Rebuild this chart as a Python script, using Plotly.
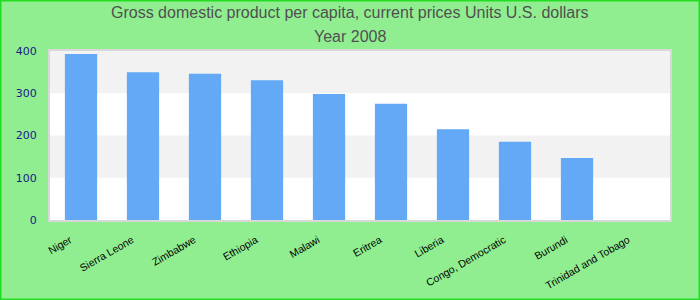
import plotly.graph_objects as go

countries = ["Niger", "Sierra Leone", "Zimbabwe", "Ethiopia", "Malawi", "Eritrea",
             "Liberia", "Congo, Democratic", "Burundi", "Trinidad and Tobago"]
gdp = [393, 350, 346, 331, 298, 275, 215, 185, 147, None]
y_ticks = [0, 100, 200, 300, 400]
title_lines = ["Gross domestic product per capita, current prices Units U.S. dollars", "Year 2008"]

ml, mr, mt, mb = 50, 30, 51, 80
W, H = 700, 300
pw, ph = W - ml - mr, H - mt - mb

fig = go.Figure(go.Bar(x=countries, y=gdp, marker_color="#63a9f5", marker_line_width=0))

shapes = []
for lo, hi in [(100, 200), (300, 400)]:
    shapes.append(dict(type="rect", xref="paper", yref="y", x0=0, x1=1, y0=lo, y1=hi,
                       fillcolor="#f2f2f2", line_width=0, layer="below"))
shapes.append(dict(type="rect", xref="paper", yref="paper",
                   x0=-ml / pw + 0.0008, x1=1 + mr / pw - 0.0008,
                   y0=-mb / ph + 0.003, y1=1 + mt / ph - 0.003,
                   line=dict(color="#22dd22", width=2), fillcolor="rgba(0,0,0,0)"))

annotations = []
for i, (txt, ypx) in enumerate(zip(title_lines, [13, 36])):
    annotations.append(dict(text=txt, xref="paper", yref="paper",
                            x=(W / 2 - ml) / pw, y=1 + (mt - ypx) / ph,
                            xanchor="center", yanchor="middle", showarrow=False,
                            font=dict(family="Liberation Sans, Arial", size=16, color="#505050")))

fig.update_layout(
    width=W, height=H,
    margin=dict(l=ml, r=mr, t=mt, b=mb),
    paper_bgcolor="#90ee90",
    plot_bgcolor="white",
    bargap=0.48,
    showlegend=False,
    shapes=shapes,
    annotations=annotations,
    xaxis=dict(tickangle=-30, tickfont=dict(family="Liberation Sans, Arial", size=10.5, color="black"),
               showgrid=False, showline=True, linecolor="#d8d8d8", linewidth=2, mirror=True,
               ticks="outside", ticklen=8, tickcolor="rgba(0,0,0,0)", ticklabelshift=-11,
               automargin=False),
    yaxis=dict(range=[0, 400], tickvals=y_ticks, showgrid=False, zeroline=False,
               tickfont=dict(family="DejaVu Sans", size=11, color="#1a1a8c"),
               showline=True, linecolor="#d8d8d8", linewidth=2, mirror=True,
               ticks="outside", ticklen=9, tickcolor="rgba(0,0,0,0)", automargin=False),
)

fig.write_html("out.html")
